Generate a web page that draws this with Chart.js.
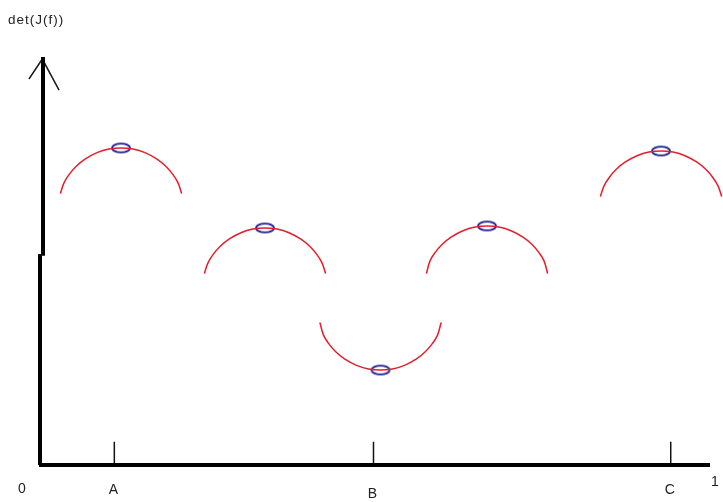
<!DOCTYPE html>
<html>
<head>
<meta charset="utf-8">
<script src="https://cdn.jsdelivr.net/npm/chart.js@4.4.1/dist/chart.umd.min.js"></script>
<style>
  html, body { margin: 0; padding: 0; background: #ffffff; }
  #wrap { width: 723px; height: 502px; }
</style>
</head>
<body>
<div id="wrap"><canvas id="c" width="723" height="502"></canvas></div>
<script>
// ---- data (x: 0..1 along the horizontal axis, y: 0..1 up to the arrow tip) ----
const yAxisTitle = 'det(J(f))';
const xTickValues = [0, 0.1096, 0.497, 0.9413, 1];
const xTickLabels = ['0', 'A', 'B', 'C', '1'];
const markedTicks = [0.1096, 0.497, 0.9413];

const arc1X = [0.0292, 0.0344, 0.0419, 0.0523, 0.0658, 0.0837, 0.1017, 0.1196, 0.1375, 0.1555, 0.1734, 0.1869, 0.1973, 0.2048, 0.2100];
const arc1Y = [0.6667, 0.6915, 0.7116, 0.7317, 0.7498, 0.7655, 0.7743, 0.7770, 0.7743, 0.7655, 0.7498, 0.7317, 0.7116, 0.6915, 0.6667];
const arc2X = [0.2444, 0.2496, 0.2571, 0.2675, 0.2810, 0.2989, 0.3169, 0.3348, 0.3527, 0.3707, 0.3886, 0.4021, 0.4125, 0.4200, 0.4252];
const arc2Y = [0.4706, 0.4954, 0.5155, 0.5356, 0.5537, 0.5694, 0.5782, 0.5809, 0.5782, 0.5694, 0.5537, 0.5356, 0.5155, 0.4954, 0.4706];
const arc3X = [0.4171, 0.4223, 0.4298, 0.4402, 0.4537, 0.4716, 0.4896, 0.5075, 0.5254, 0.5434, 0.5613, 0.5748, 0.5852, 0.5927, 0.5979];
const arc3Y = [0.3480, 0.3183, 0.2982, 0.2781, 0.2600, 0.2443, 0.2355, 0.2328, 0.2355, 0.2443, 0.2600, 0.2781, 0.2982, 0.3183, 0.3480];
const arc4X = [0.5763, 0.5815, 0.5890, 0.5994, 0.6129, 0.6308, 0.6488, 0.6667, 0.6846, 0.7026, 0.7205, 0.7340, 0.7444, 0.7519, 0.7571];
const arc4Y = [0.4706, 0.5003, 0.5204, 0.5405, 0.5586, 0.5743, 0.5831, 0.5858, 0.5831, 0.5743, 0.5586, 0.5405, 0.5204, 0.5003, 0.4706];
const arc5X = [0.8364, 0.8416, 0.8491, 0.8595, 0.8730, 0.8909, 0.9089, 0.9268, 0.9447, 0.9627, 0.9806, 0.9941, 1.0045, 1.0120, 1.0172];
const arc5Y = [0.6593, 0.6841, 0.7042, 0.7243, 0.7424, 0.7581, 0.7669, 0.7696, 0.7669, 0.7581, 0.7424, 0.7243, 0.7042, 0.6841, 0.6593];

// ---- helpers ----
const zip = (xs, ys) => xs.map((x, i) => ({ x: x, y: ys[i] }));
const arcs = [zip(arc1X, arc1Y), zip(arc2X, arc2Y), zip(arc3X, arc3Y), zip(arc4X, arc4Y), zip(arc5X, arc5Y)];
const peaks = arcs.map(a => a[Math.floor(a.length / 2)]);

// ellipse marker used as point style
function ellipseMarker() {
  const cv = document.createElement('canvas');
  cv.width = 22; cv.height = 13;
  const g = cv.getContext('2d');
  g.strokeStyle = '#1e1e8e';
  g.lineWidth = 1.9;
  g.beginPath();
  g.ellipse(11, 6.5, 9, 4.4, 0, 0, Math.PI * 2);
  g.stroke();
  return cv;
}

// axis geometry (styles only)
const AXIS_STEP_Y = 0.517;   // where the hand-drawn vertical axis jogs
const AXIS_JOG = 0.003;
const TICK_H = 0.057;

const RED = 'rgb(226,32,44)';
const datasets = [];

// axes
datasets.push({ data: [{ x: -0.003, y: 0 }, { x: 1, y: 0 }], borderColor: '#000', borderWidth: 4, borderCapStyle: 'butt' });
datasets.push({ data: [{ x: -0.0015, y: 0 }, { x: -0.0015, y: AXIS_STEP_Y }], borderColor: '#000', borderWidth: 4, borderCapStyle: 'butt' });
datasets.push({ data: [{ x: AXIS_JOG, y: AXIS_STEP_Y - 0.004 }, { x: AXIS_JOG, y: 1 }], borderColor: '#000', borderWidth: 4, borderCapStyle: 'butt' });
// arrow head
datasets.push({ data: [{ x: -0.018, y: 0.946 }, { x: AXIS_JOG - 0.001, y: 0.995 }, { x: 0.027, y: 0.919 }], borderColor: '#1a1a1a', borderWidth: 1.5, tension: 0 });
// tick marks
markedTicks.forEach(v => {
  datasets.push({ data: [{ x: v, y: 0 }, { x: v, y: TICK_H }], borderColor: '#111', borderWidth: 1.5, tension: 0 });
});
// arcs
arcs.forEach(a => {
  datasets.push({ data: a, borderColor: RED, borderWidth: 1.5, tension: 0.4, borderCapStyle: 'round', borderJoinStyle: 'round' });
});
// ellipse markers on the extrema
datasets.push({ data: peaks, showLine: false, pointStyle: ellipseMarker(), pointRadius: 6, borderWidth: 0 });

// text plugin: axis title and tick labels placed via the scales
const labelPlugin = {
  id: 'labels',
  afterDraw(chart) {
    const ctx = chart.ctx;
    const xs = chart.scales.x, ys = chart.scales.y;
    const y0 = ys.getPixelForValue(0);
    ctx.save();
    ctx.fillStyle = '#222';
    ctx.font = '13.5px "Liberation Sans", Arial, sans-serif';
    ctx.textBaseline = 'middle';
    ctx.textAlign = 'left';
    try { ctx.letterSpacing = '1px'; } catch (e) {}
    ctx.fillText(yAxisTitle, 8, 20);
    try { ctx.letterSpacing = '0px'; } catch (e) {}
    ctx.font = '14px "Liberation Sans", Arial, sans-serif';
    ctx.textAlign = 'center';
    const offs = { 0: [-19, 24], 4: [5, 17] };
    xTickValues.forEach((v, i) => {
      const o = offs[i] || [-1, 25];
      let dy = o[1];
      if (xTickLabels[i] === 'B') dy = 29;
      ctx.fillText(xTickLabels[i], xs.getPixelForValue(v) + o[0], y0 + dy);
    });
    ctx.restore();
  }
};

new Chart(document.getElementById('c'), {
  type: 'line',
  data: { datasets: datasets },
  options: {
    responsive: false,
    animation: false,
    events: [],
    layout: { padding: 0, autoPadding: false },
    elements: { point: { radius: 0, hoverRadius: 0 }, line: { fill: false } },
    plugins: { legend: { display: false }, tooltip: { enabled: false }, title: { display: false } },
    scales: {
      x: { type: 'linear', display: false, min: -41 / 669, max: 1 + 13 / 669 },
      y: { type: 'linear', display: false, min: -37 / 408, max: 1 + 57 / 408 }
    }
  },
  plugins: [labelPlugin]
});
</script>
</body>
</html>
